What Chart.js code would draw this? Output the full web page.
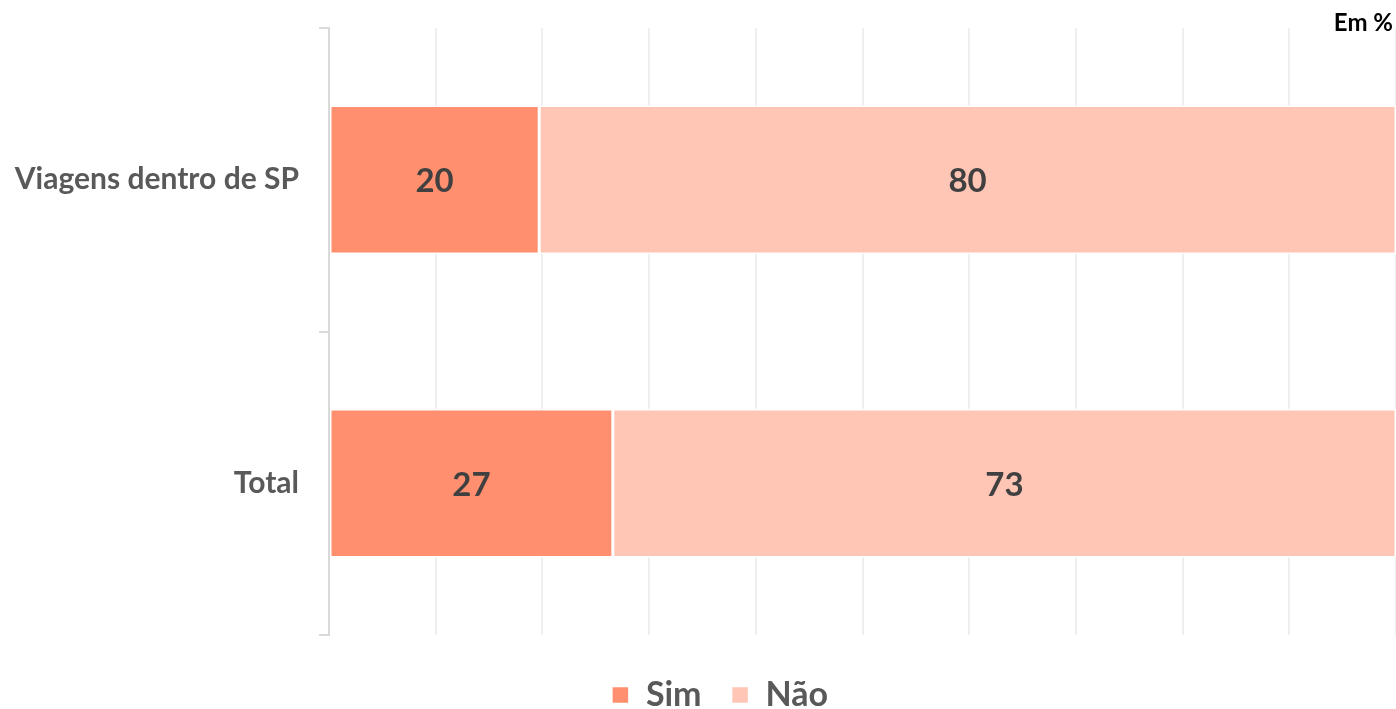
<!DOCTYPE html>
<html>
<head>
<meta charset="utf-8">
<script src="https://cdn.jsdelivr.net/npm/chart.js@4"></script>
<style>
  html, body { margin: 0; padding: 0; background: #fff; }
  canvas { display: block; }
</style>
</head>
<body>
<canvas id="chart" width="1396" height="709"></canvas>
<script>
// dados (em %)
const categories = ['Viagens dentro de SP', 'Total'];
const simValues = [19.7, 26.6];
const naoValues = [80.3, 73.4];
const seriesNames = ['Sim', 'Não'];
const unitLabel = 'Em %';

const FONT = "Lato, 'Open Sans', sans-serif";

// rótulos dentro das barras
const barLabels = {
  id: 'barLabels',
  afterLayout(chart) {
    // legenda um pouco deslocada para a direita, como no original
    chart.legend.left += 22;
    chart.legend.right += 22;
  },
  afterDatasetsDraw(chart) {
    const ctx = chart.ctx;
    ctx.save();
    ctx.font = 'bold 33px ' + FONT;
    ctx.fillStyle = '#404040';
    ctx.textAlign = 'center';
    ctx.textBaseline = 'middle';
    chart.data.datasets.forEach((ds, i) => {
      chart.getDatasetMeta(i).data.forEach((bar, j) => {
        const p = bar.getProps(['x', 'y', 'base'], true);
        ctx.fillText(Math.round(ds.data[j]), (p.x + p.base) / 2, p.y + 2);
      });
    });
    // "Em %" no canto
    ctx.font = 'bold 24px ' + FONT;
    ctx.fillStyle = '#000';
    ctx.textAlign = 'right';
    ctx.fillText(unitLabel, 1393, 23);
    ctx.restore();
  }
};

new Chart(document.getElementById('chart'), {
  type: 'bar',
  data: {
    labels: categories,
    datasets: [
      { label: seriesNames[0], data: simValues, backgroundColor: '#FF8F6E' },
      { label: seriesNames[1], data: naoValues, backgroundColor: '#FFC5B5' }
    ]
  },
  options: {
    indexAxis: 'y',
    responsive: false,
    animation: false,
    devicePixelRatio: 1,
    layout: { padding: { top: 28, right: 0, left: 0, bottom: -13 } },
    datasets: {
      bar: {
        categoryPercentage: 1,
        barPercentage: 0.49,
        borderColor: '#ffffff',
        borderWidth: 1.5,
        borderSkipped: false
      }
    },
    scales: {
      x: {
        stacked: true,
        min: 0,
        max: 100,
        ticks: { display: false, stepSize: 10 },
        grid: { color: '#EFEFEF', lineWidth: 2, drawTicks: false },
        border: { display: false }
      },
      y: {
        stacked: true,
        afterFit(scale) {
          scale.width = 329;
          scale.paddingTop = 0;
          scale.paddingBottom = 0;
        },
        ticks: {
          color: '#595959',
          font: { family: FONT, size: 30, weight: 'bold' },
          padding: 20
        },
        grid: { drawOnChartArea: false, color: '#D9D9D9', lineWidth: 2, tickLength: 10 },
        border: { color: '#D9D9D9', width: 2 }
      }
    },
    plugins: {
      legend: {
        position: 'bottom',
        title: { display: true, text: ' ', font: { size: 10 }, padding: { top: 0, bottom: 1 } },
        labels: {
          color: '#595959',
          font: { family: FONT, size: 34, weight: 'bold' },
          boxWidth: 17,
          boxHeight: 17,
          padding: 30
        }
      },
      tooltip: { enabled: false }
    }
  },
  plugins: [barLabels]
});
</script>
</body>
</html>
